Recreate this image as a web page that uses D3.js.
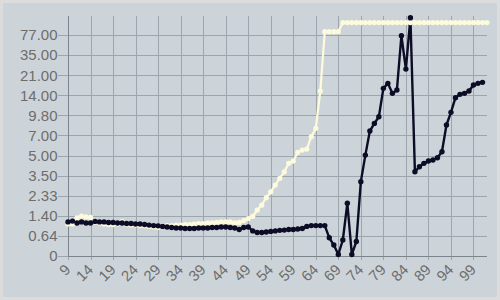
<!DOCTYPE html>
<html>
<head>
<meta charset="utf-8">
<script src="https://cdn.jsdelivr.net/npm/d3@7"></script>
<style>
  html, body { margin: 0; padding: 0; background: #dcdcdc; }
  svg { display: block; }
  text { font-family: "Liberation Sans", Arial, sans-serif; }
</style>
</head>
<body>
<svg id="chart" width="500" height="300"></svg>
<script>
// ---- data ----
const xStart = 9;
const xTicks = [9, 14, 19, 24, 29, 34, 39, 44, 49, 54, 59, 64, 69, 74, 79, 84, 89, 94, 99];
const yTickValues = [0, 0.64, 1.40, 2.33, 3.50, 5.00, 7.00, 9.80, 14.00, 21.00, 35.00, 77.00];
const yTickLabels = ["0", "0.64", "1.40", "2.33", "3.50", "5.00", "7.00", "9.80", "14.00", "21.00", "35.00", "77.00"];
const yTop = 150;

// dark series, x = 9..101
const darkValues = [
  1.17, 1.20, 1.13, 1.17, 1.13, 1.13, 1.19, 1.17, 1.17, 1.15,
  1.15, 1.13, 1.13, 1.11, 1.11, 1.09, 1.09, 1.07, 1.05, 1.03,
  1.02, 1.00, 0.98, 0.96, 0.94, 0.94, 0.92, 0.92, 0.92, 0.94,
  0.94, 0.94, 0.96, 0.96, 0.98, 0.98, 0.96, 0.94, 0.88, 0.96,
  0.98, 0.83, 0.77, 0.77, 0.79, 0.81, 0.83, 0.85, 0.86, 0.88,
  0.88, 0.90, 0.92, 1.00, 1.03, 1.03, 1.03, 1.03, 0.58, 0.35,
  0.05, 0.51, 1.98, 0.05, 0.46, 3.15, 5.05, 7.62, 8.69, 9.61,
  16.43, 18.17, 14.69, 15.84, 75.6, 25.3, 143.4, 3.79, 4.17, 4.42,
  4.59, 4.67, 4.84, 5.38, 8.46, 10.44, 13.5, 14.34, 14.69, 15.49,
  17.58, 18.17, 18.52
];

// light series, x = 9..102
const lightValues = [
  1.09, 1.09, 1.32, 1.39, 1.36, 1.34, 1.17, 1.13, 1.09, 1.07,
  1.07, 1.09, 1.18, 1.07, 1.05, 1.05, 1.03, 1.02, 1.00, 0.98,
  0.96, 1.02, 1.03, 1.03, 1.05, 1.05, 1.07, 1.07, 1.09, 1.11,
  1.11, 1.13, 1.13, 1.15, 1.17, 1.17, 1.17, 1.13, 1.15, 1.22,
  1.30, 1.38, 1.67, 1.90, 2.24, 2.56, 2.95, 3.35, 3.79, 4.42,
  4.59, 5.32, 5.55, 5.65, 6.88, 8.00, 15.49, 90, 90, 90,
  90, 125, 125, 125, 125, 125, 125, 125, 125, 125,
  125, 125, 125, 125, 125, 125, 125, 125, 125, 125,
  125, 125, 125, 125, 125, 125, 125, 125, 125, 125,
  125, 125, 125, 125
];

// ---- layout ----
const W = 500, H = 300;
const plot = { left: 68, right: 487, top: 16, bottom: 256 };
const svg = d3.select("#chart");

svg.append("rect").attr("x", 0).attr("y", 0).attr("width", W).attr("height", H).attr("fill", "#dcdcdc");
svg.append("rect").attr("x", 3).attr("y", 3).attr("width", W - 6).attr("height", H - 6).attr("fill", "#cdd4d9");

const x = d3.scaleLinear().domain([9, 102]).range([plot.left, plot.right]);

const step = (plot.bottom - plot.top) / 11.95;
const yDomain = yTickValues.concat([yTop]);
const yRange = yTickValues.map((d, i) => plot.bottom - i * step).concat([plot.top]);
const y = d3.scaleLinear().domain(yDomain).range(yRange);

// grid
const grid = svg.append("g");
grid.selectAll("line.h").data(yTickValues).enter().append("line")
  .attr("x1", plot.left - 10).attr("x2", plot.right)
  .attr("y1", d => Math.round(y(d)) + 0.5).attr("y2", d => Math.round(y(d)) + 0.5)
  .attr("stroke", "#9ea6ad").attr("stroke-width", 1);
grid.selectAll("line.v").data(xTicks).enter().append("line")
  .attr("y1", plot.top).attr("y2", plot.bottom + 4)
  .attr("x1", d => Math.round(x(d)) + 0.5).attr("x2", d => Math.round(x(d)) + 0.5)
  .attr("stroke", "#9ea6ad").attr("stroke-width", 1);

// axes
const yAxis = d3.axisLeft(y).tickValues(yTickValues).tickFormat((d, i) => yTickLabels[i]).tickSize(0).tickPadding(11);
const gy = svg.append("g").attr("transform", `translate(${plot.left + 0.5},0)`).call(yAxis);
gy.select(".domain").remove();
gy.selectAll("text").attr("font-size", 15).attr("fill", "#6d6d6d")
  .style("font-family", "'Liberation Sans', Arial, sans-serif");

const xAxis = d3.axisBottom(x).tickValues(xTicks).tickFormat(d3.format("d")).tickSize(0);
const gx = svg.append("g").attr("transform", `translate(0,${plot.bottom})`).call(xAxis);
gx.select(".domain").remove();
gx.selectAll("text")
  .attr("font-size", 15).attr("fill", "#6d6d6d")
  .style("font-family", "'Liberation Sans', Arial, sans-serif")
  .attr("text-anchor", "end")
  .attr("x", 0).attr("y", 0).attr("dy", 0)
  .attr("transform", "translate(3,14.5) rotate(-45)");

svg.append("line").attr("x1", plot.left + 0.5).attr("x2", plot.left + 0.5)
  .attr("y1", plot.top).attr("y2", plot.bottom).attr("stroke", "#7c858c").attr("stroke-width", 1);
svg.append("line").attr("x1", plot.left).attr("x2", plot.right)
  .attr("y1", plot.bottom + 0.5).attr("y2", plot.bottom + 0.5).attr("stroke", "#7c858c").attr("stroke-width", 1);

// series
const lightData = lightValues.map((v, i) => ({ x: xStart + i, v }));
const darkData = darkValues.map((v, i) => ({ x: xStart + i, v }));
const line = d3.line().x(d => x(d.x)).y(d => y(d.v));

svg.append("path").datum(lightData).attr("d", line)
  .attr("fill", "none").attr("stroke", "#fdfbdc").attr("stroke-width", 2.2).attr("stroke-linejoin", "round");
svg.append("path").datum(darkData).attr("d", line)
  .attr("fill", "none").attr("stroke", "#0c0c26").attr("stroke-width", 2.4).attr("stroke-linejoin", "round");

svg.append("g").selectAll("circle").data(lightData).enter().append("circle")
  .attr("cx", d => x(d.x)).attr("cy", d => y(d.v)).attr("r", 2.6).attr("fill", "#fdfbdc");
svg.append("g").selectAll("circle").data(darkData).enter().append("circle")
  .attr("cx", d => x(d.x)).attr("cy", d => y(d.v)).attr("r", 2.7).attr("fill", "#0c0c26");
</script>
</body>
</html>
